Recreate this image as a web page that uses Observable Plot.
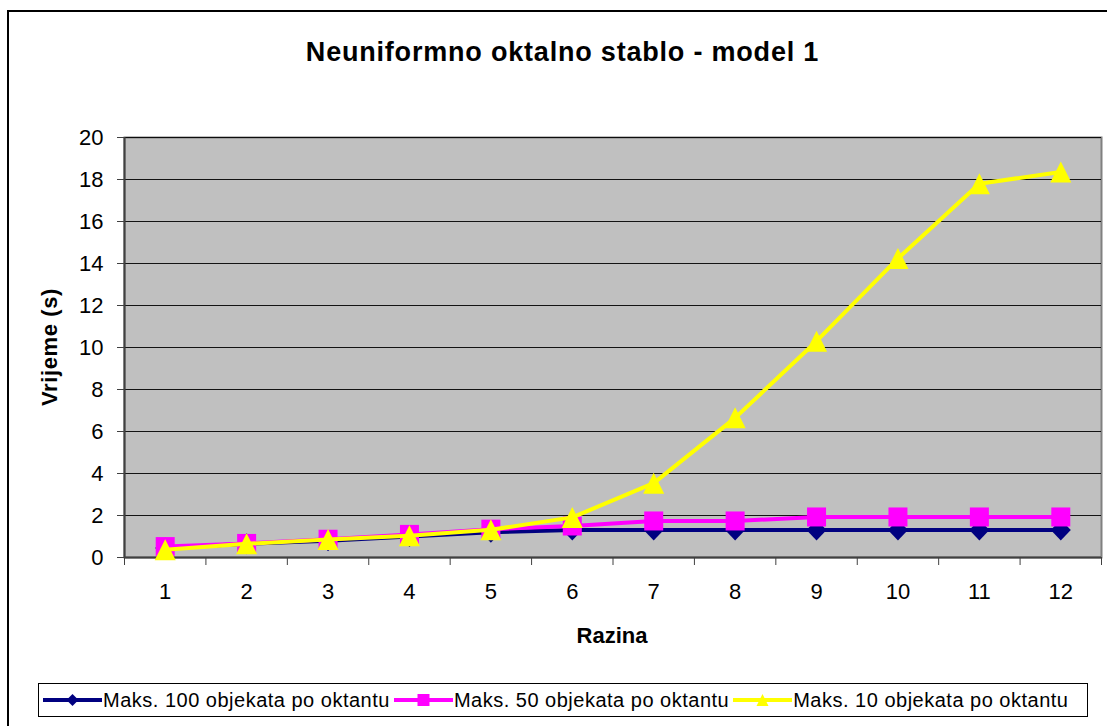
<!DOCTYPE html>
<html>
<head>
<meta charset="utf-8">
<script src="https://cdn.jsdelivr.net/npm/d3@7"></script>
<script src="https://cdn.jsdelivr.net/npm/@observablehq/plot@0.6"></script>
<style>
  body { margin: 0; background: #fff; font-family: Arial, "Liberation Sans", sans-serif; color: #000; }
  .abs { position: absolute; }
  #title { left: 0; width: 1125px; top: 39px; text-align: center; font-weight: bold; font-size: 27px; line-height: 27px; letter-spacing: 0.8px; white-space: nowrap; }
  #xlabel { left: 412px; width: 400px; top: 625px; text-align: center; font-weight: bold; font-size: 22px; line-height: 22px; }
  #ylabel { left: -160px; width: 420px; top: 336px; text-align: center; font-weight: bold; font-size: 22px; line-height: 22px; letter-spacing: 0.6px; transform: rotate(-90deg); transform-origin: 210px 11px; }
  #legend { left: 38px; top: 683px; width: 1045px; height: 32px; border: 1px solid #000; display: flex; align-items: center; padding-left: 3px; box-sizing: content-box; font-size: 20px; letter-spacing: 0.5px; white-space: nowrap; }
  #legend .item { display: flex; align-items: center; margin-right: 3px; }
  #legend svg { display: block; }
  #outer { left: 7px; top: 10px; width: 1140px; height: 760px; border: 2px solid #000; pointer-events: none; }
</style>
</head>
<body>
<div id="chart" class="abs" style="left:0;top:0"></div>
<div id="title" class="abs">Neuniformno oktalno stablo - model 1</div>
<div id="xlabel" class="abs">Razina</div>
<div id="ylabel" class="abs">Vrijeme (s)</div>
<div id="legend" class="abs"></div>
<div id="outer" class="abs"></div>
<script>
// ---- data ----
const razina = [1, 2, 3, 4, 5, 6, 7, 8, 9, 10, 11, 12];
const maks100 = [0.45, 0.65, 0.8, 1.0, 1.2, 1.31, 1.31, 1.31, 1.31, 1.31, 1.31, 1.31];
const maks50 = [0.52, 0.67, 0.87, 1.1, 1.35, 1.5, 1.74, 1.74, 1.93, 1.93, 1.93, 1.93];
const maks10 = [0.37, 0.65, 0.86, 1.04, 1.32, 1.91, 3.54, 6.65, 10.3, 14.24, 17.8, 18.36];
const seriesNames = ["Maks. 100 objekata po oktantu", "Maks. 50 objekata po oktantu", "Maks. 10 objekata po oktantu"];
const seriesColors = ["#000080", "#FF00FF", "#FFFF00"];
const yTicks = [0, 2, 4, 6, 8, 10, 12, 14, 16, 18, 20];

// ---- marker symbols (Excel-like) ----
const diamond = { draw(ctx, size) { const r = Math.sqrt(size / Math.PI); ctx.moveTo(0, -r * 1.05); ctx.lineTo(r, 0); ctx.lineTo(0, r * 1.05); ctx.lineTo(-r, 0); ctx.closePath(); } };
const square = { draw(ctx, size) { const r = Math.sqrt(size / Math.PI); ctx.rect(-r, -r, 2 * r, 2 * r); } };
const triangle = { draw(ctx, size) { const r = Math.sqrt(size / Math.PI); ctx.moveTo(0, -r); ctx.lineTo(r, r); ctx.lineTo(-r, r); ctx.closePath(); } };
const symbols = [diamond, square, triangle];
const markerR = [10, 9.5, 10.5];

const series = [maks100, maks50, maks10].map((vals, i) =>
  razina.map((r, j) => ({ razina: r, value: vals[j], series: seriesNames[i] })));

const xDomain = [razina[0] - 0.5, razina[razina.length - 1] + 0.5];
const boundaries = [xDomain[0], ...razina.map(r => r + 0.5)];

const marks = [
  Plot.frame({ fill: "#C0C0C0", stroke: "#808080", strokeWidth: 2 }),
  Plot.gridY(yTicks.slice(1), { stroke: "#000", strokeOpacity: 0.9, strokeWidth: 1 }),
  Plot.ruleX([xDomain[0]], { stroke: "#404040", strokeWidth: 2 }),
  Plot.ruleY([yTicks[0]], { stroke: "#404040", strokeWidth: 2 }),
  Plot.axisY(yTicks, { tickSize: 7, tickPadding: 14, fontSize: 22, stroke: "#404040", strokeOpacity: 1, label: null }),
  Plot.axisX(razina, { tickSize: 0, tickPadding: 26, fontSize: 22, label: null, tickFormat: d => String(d) }),
  Plot.axisX(boundaries, { tickSize: 8, stroke: "#404040", strokeOpacity: 1, tickFormat: () => "", label: null })
];
series.forEach((data, i) => {
  marks.push(Plot.line(data, { x: "razina", y: "value", stroke: seriesColors[i], strokeWidth: 4 }));
  marks.push(Plot.dot(data, { x: "razina", y: "value", fill: seriesColors[i], stroke: "none", symbol: symbols[i], r: markerR[i] }));
});

const chart = Plot.plot({
  width: 1107,
  height: 660,
  marginLeft: 124,
  marginRight: 6,
  marginTop: 137,
  marginBottom: 103,
  style: { fontFamily: "Arial, 'Liberation Sans', sans-serif", fontSize: "22px", background: "transparent", color: "#000" },
  x: { type: "linear", domain: xDomain },
  y: { domain: [yTicks[0], yTicks[yTicks.length - 1]] },
  marks
});
document.getElementById("chart").appendChild(chart);

// ---- legend ----
const legend = document.getElementById("legend");
const legendSym = [
  r => `<path d="M0,${-r}L${r},0L0,${r}L${-r},0Z"/>`,
  r => `<rect x="${-r}" y="${-r}" width="${2 * r}" height="${2 * r}"/>`,
  r => `<path d="M0,${-r}L${r},${r}L${-r},${r}Z"/>`
];
seriesNames.forEach((name, i) => {
  const item = document.createElement("div");
  item.className = "item";
  item.innerHTML = `<svg width="61" height="32"><line x1="1" x2="60" y1="16" y2="16" stroke="${seriesColors[i]}" stroke-width="4"/><g transform="translate(30.5,16)" fill="${seriesColors[i]}">${legendSym[i](6)}</g></svg><span>${name}</span>`;
  legend.appendChild(item);
});
</script>
</body>
</html>
